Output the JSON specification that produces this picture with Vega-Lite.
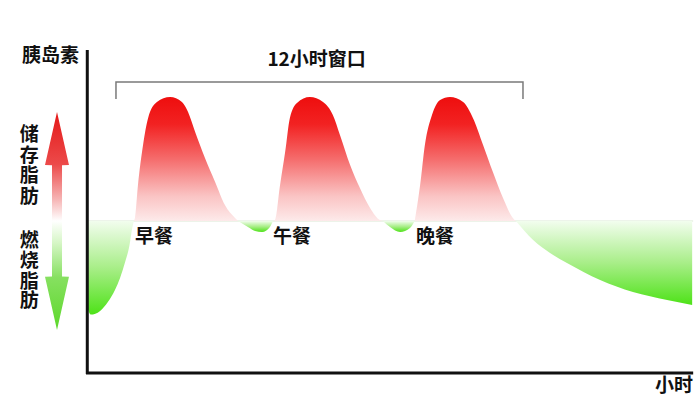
{
  "$schema": "https://vega.github.io/schema/vega-lite/v6.json",
  "width": 700,
  "height": 398,
  "autosize": {"type": "fit", "contains": "padding"},
  "padding": 0,
  "background": "white",
  "config": {"view": {"stroke": null}},
  "datasets": {
    "above": [
      {"seg": "breakfast", "h": 7.50, "v": 0},
      {"seg": "breakfast", "h": 7.53, "v": 2.4},
      {"seg": "breakfast", "h": 7.62, "v": 29.0},
      {"seg": "breakfast", "h": 7.77, "v": 61.3},
      {"seg": "breakfast", "h": 7.92, "v": 83.1},
      {"seg": "breakfast", "h": 8.18, "v": 95.9},
      {"seg": "breakfast", "h": 8.57, "v": 100},
      {"seg": "breakfast", "h": 8.92, "v": 95.9},
      {"seg": "breakfast", "h": 9.10, "v": 87.9},
      {"seg": "breakfast", "h": 9.31, "v": 71.8},
      {"seg": "breakfast", "h": 9.60, "v": 50.8},
      {"seg": "breakfast", "h": 9.90, "v": 31.5},
      {"seg": "breakfast", "h": 10.19, "v": 12.9},
      {"seg": "breakfast", "h": 10.49, "v": 2.4},
      {"seg": "breakfast", "h": 10.58, "v": 0},
      {"seg": "lunch", "h": 11.61, "v": 0},
      {"seg": "lunch", "h": 11.67, "v": 0.8},
      {"seg": "lunch", "h": 11.82, "v": 29.0},
      {"seg": "lunch", "h": 11.97, "v": 55.6},
      {"seg": "lunch", "h": 12.11, "v": 83.1},
      {"seg": "lunch", "h": 12.32, "v": 95.2},
      {"seg": "lunch", "h": 12.70, "v": 100},
      {"seg": "lunch", "h": 13.09, "v": 95.9},
      {"seg": "lunch", "h": 13.38, "v": 85.5},
      {"seg": "lunch", "h": 13.59, "v": 69.4},
      {"seg": "lunch", "h": 13.89, "v": 45.2},
      {"seg": "lunch", "h": 14.18, "v": 26.6},
      {"seg": "lunch", "h": 14.48, "v": 10.5},
      {"seg": "lunch", "h": 14.77, "v": 0.8},
      {"seg": "lunch", "h": 14.86, "v": 0},
      {"seg": "dinner", "h": 15.80, "v": 0},
      {"seg": "dinner", "h": 15.96, "v": 29.0},
      {"seg": "dinner", "h": 16.10, "v": 61.3},
      {"seg": "dinner", "h": 16.31, "v": 85.5},
      {"seg": "dinner", "h": 16.55, "v": 97.6},
      {"seg": "dinner", "h": 16.84, "v": 100},
      {"seg": "dinner", "h": 17.23, "v": 95.9},
      {"seg": "dinner", "h": 17.52, "v": 83.1},
      {"seg": "dinner", "h": 17.82, "v": 61.3},
      {"seg": "dinner", "h": 18.11, "v": 39.5},
      {"seg": "dinner", "h": 18.41, "v": 18.5},
      {"seg": "dinner", "h": 18.70, "v": 2.4},
      {"seg": "dinner", "h": 18.79, "v": 0}
    ],
    "below": [
      {"seg": "pre", "h": 6.14, "v": -71.0},
      {"seg": "pre", "h": 6.22, "v": -75.5},
      {"seg": "pre", "h": 6.50, "v": -72.5},
      {"seg": "pre", "h": 6.73, "v": -65.3},
      {"seg": "pre", "h": 6.94, "v": -55.6},
      {"seg": "pre", "h": 7.09, "v": -46.0},
      {"seg": "pre", "h": 7.24, "v": -33.1},
      {"seg": "pre", "h": 7.37, "v": -19.4},
      {"seg": "pre", "h": 7.44, "v": -7.3},
      {"seg": "pre", "h": 7.50, "v": 0},
      {"seg": "dip1", "h": 10.58, "v": 0},
      {"seg": "dip1", "h": 10.87, "v": -4.8},
      {"seg": "dip1", "h": 11.08, "v": -8.0},
      {"seg": "dip1", "h": 11.29, "v": -8.9},
      {"seg": "dip1", "h": 11.52, "v": -4.8},
      {"seg": "dip1", "h": 11.61, "v": 0},
      {"seg": "dip2", "h": 14.86, "v": 0},
      {"seg": "dip2", "h": 15.07, "v": -4.8},
      {"seg": "dip2", "h": 15.37, "v": -8.9},
      {"seg": "dip2", "h": 15.66, "v": -5.6},
      {"seg": "dip2", "h": 15.80, "v": 0},
      {"seg": "post", "h": 18.79, "v": 0},
      {"seg": "post", "h": 19.30, "v": -15.3},
      {"seg": "post", "h": 19.80, "v": -25.8},
      {"seg": "post", "h": 20.30, "v": -33.9},
      {"seg": "post", "h": 21.28, "v": -47.6},
      {"seg": "post", "h": 22.25, "v": -57.3},
      {"seg": "post", "h": 23.26, "v": -63.7},
      {"seg": "post", "h": 24.00, "v": -67.7}
    ],
    "arrow": [
      {"v": 87.9, "xa": 5.227, "xb": 5.227},
      {"v": 45.2, "xa": 4.872, "xb": 5.581},
      {"v": 45.0, "xa": 5.079, "xb": 5.375},
      {"v": -44.7, "xa": 5.079, "xb": 5.375},
      {"v": -44.9, "xa": 4.872, "xb": 5.581},
      {"v": -87.9, "xa": 5.227, "xb": 5.227}
    ],
    "axes": [
      {"xa": 6.122, "xb": 6.122, "ya": 137.9, "yb": -123.4},
      {"xa": 6.084, "xb": 24.03, "ya": -122.6, "yb": -122.6}
    ],
    "bracket": [
      {"i": 1, "h": 6.97, "v": 98.4},
      {"i": 2, "h": 6.97, "v": 112.1},
      {"i": 3, "h": 19.0, "v": 112.1},
      {"i": 4, "h": 19.0, "v": 98.4}
    ],
    "labels": [
      {"t": "早餐", "h": 7.53, "v": -12.9},
      {"t": "午餐", "h": 11.61, "v": -12.9},
      {"t": "晚餐", "h": 15.84, "v": -12.9},
      {"t": "胰岛素", "h": 4.19, "v": 133.1}
    ],
    "vertical": [
      {"t": "储", "v": 69.4},
      {"t": "存", "v": 52.4},
      {"t": "脂", "v": 35.9},
      {"t": "肪", "v": 19.4},
      {"t": "燃", "v": -16.1},
      {"t": "烧", "v": -32.3},
      {"t": "脂", "v": -49.2},
      {"t": "肪", "v": -64.5}
    ]
  },
  "layer": [
    {
      "data": {"values": [{"xa": 6.14, "xb": 24.03, "v": 0}]},
      "mark": {"type": "rule", "color": "#dbe8d4", "strokeWidth": 1},
      "encoding": {
        "x": {"field": "xa", "type": "quantitative", "scale": {"domain": [3.542, 24.232], "nice": false, "zero": false}, "axis": null},
        "x2": {"field": "xb"},
        "y": {"field": "v", "type": "quantitative", "scale": {"domain": [-142.74, 178.23], "nice": false, "zero": false}, "axis": null}
      }
    },
    {
      "data": {"name": "above"},
      "mark": {
        "type": "area",
        "interpolate": "monotone",
        "fill": {"gradient": "linear", "x1": 0, "y1": 0, "x2": 0, "y2": 1,
          "stops": [
            {"offset": 0, "color": "#ee0e0e"},
            {"offset": 0.22, "color": "#f22222"},
            {"offset": 0.5, "color": "#f56c6c"},
            {"offset": 0.8, "color": "#fac4c4"},
            {"offset": 1, "color": "#fdeaea"}
          ]}
      },
      "encoding": {
        "x": {"field": "h", "type": "quantitative"},
        "y": {"field": "v", "type": "quantitative"},
        "y2": {"datum": 0},
        "detail": {"field": "seg"}
      }
    },
    {
      "data": {"name": "below"},
      "mark": {
        "type": "area",
        "interpolate": "monotone",
        "fill": {"gradient": "linear", "x1": 0, "y1": 0, "x2": 0, "y2": 1,
          "stops": [
            {"offset": 0, "color": "#f2fdee"},
            {"offset": 0.5, "color": "#a8ee88"},
            {"offset": 1, "color": "#4ee218"}
          ]}
      },
      "encoding": {
        "x": {"field": "h", "type": "quantitative"},
        "y": {"field": "v", "type": "quantitative"},
        "y2": {"datum": 0},
        "detail": {"field": "seg"}
      }
    },
    {
      "data": {"name": "arrow"},
      "mark": {
        "type": "area",
        "orient": "horizontal",
        "interpolate": "linear",
        "fill": {"gradient": "linear", "x1": 0, "y1": 0, "x2": 0, "y2": 1,
          "stops": [
            {"offset": 0, "color": "#e41818"},
            {"offset": 0.24, "color": "#ec4a4a"},
            {"offset": 0.4, "color": "#f6b4b4"},
            {"offset": 0.5, "color": "#ffffff"},
            {"offset": 0.6, "color": "#d6f6c6"},
            {"offset": 0.76, "color": "#86e060"},
            {"offset": 1, "color": "#5cd82a"}
          ]}
      },
      "encoding": {
        "y": {"field": "v", "type": "quantitative"},
        "x": {"field": "xa", "type": "quantitative"},
        "x2": {"field": "xb"}
      }
    },
    {
      "data": {"name": "axes"},
      "mark": {"type": "rule", "color": "#111111", "strokeWidth": 3},
      "encoding": {
        "x": {"field": "xa", "type": "quantitative"},
        "x2": {"field": "xb"},
        "y": {"field": "ya", "type": "quantitative"},
        "y2": {"field": "yb"}
      }
    },
    {
      "data": {"name": "bracket"},
      "mark": {"type": "line", "color": "#7a7a7a", "strokeWidth": 1.5},
      "encoding": {
        "x": {"field": "h", "type": "quantitative"},
        "y": {"field": "v", "type": "quantitative"},
        "order": {"field": "i"}
      }
    },
    {
      "data": {"name": "labels"},
      "mark": {"type": "text", "align": "left", "baseline": "middle", "font": "Noto Sans CJK SC", "fontWeight": "bold", "fontSize": 19, "color": "#111111"},
      "encoding": {
        "x": {"field": "h", "type": "quantitative"},
        "y": {"field": "v", "type": "quantitative"},
        "text": {"field": "t"}
      }
    },
    {
      "data": {"values": [{"t": "12小时窗口", "h": 12.90, "v": 130.2}]},
      "mark": {"type": "text", "align": "center", "baseline": "middle", "font": "Noto Sans CJK SC", "fontWeight": "bold", "fontSize": 19, "color": "#111111"},
      "encoding": {
        "x": {"field": "h", "type": "quantitative"},
        "y": {"field": "v", "type": "quantitative"},
        "text": {"field": "t"}
      }
    },
    {
      "data": {"values": [{"t": "小时", "h": 24.025, "v": -133.1}]},
      "mark": {"type": "text", "align": "right", "baseline": "middle", "font": "Noto Sans CJK SC", "fontWeight": "bold", "fontSize": 19, "color": "#111111"},
      "encoding": {
        "x": {"field": "h", "type": "quantitative"},
        "y": {"field": "v", "type": "quantitative"},
        "text": {"field": "t"}
      }
    },
    {
      "data": {"name": "vertical"},
      "mark": {"type": "text", "align": "center", "baseline": "middle", "font": "Noto Sans CJK SC", "fontWeight": "bold", "fontSize": 19, "color": "#111111"},
      "encoding": {
        "x": {"datum": 4.405, "type": "quantitative"},
        "y": {"field": "v", "type": "quantitative"},
        "text": {"field": "t"}
      }
    }
  ]
}
